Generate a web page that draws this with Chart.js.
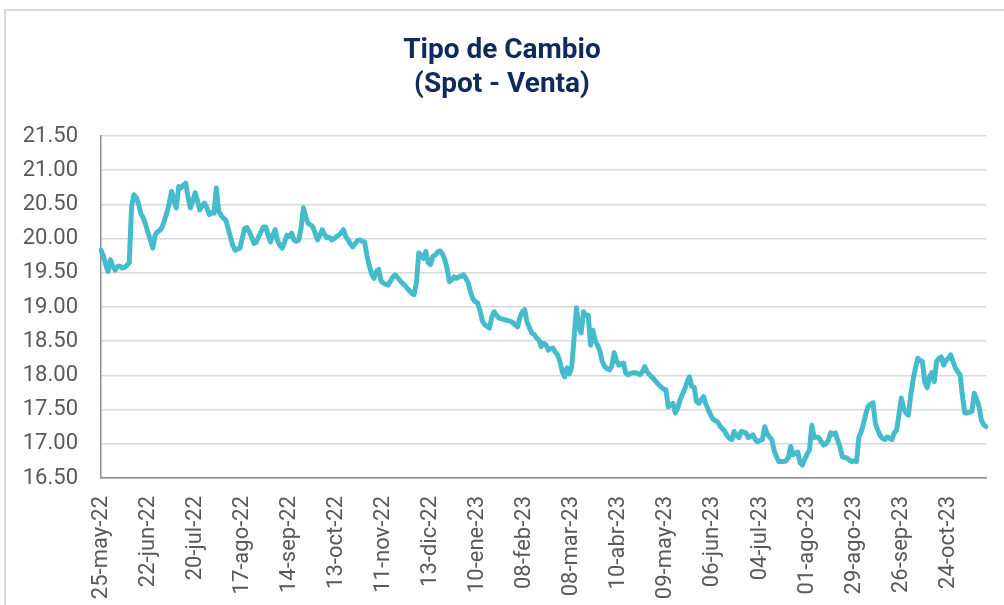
<!DOCTYPE html>
<html><head><meta charset="utf-8">
<script src="https://cdn.jsdelivr.net/npm/chart.js@4.4.0/dist/chart.umd.min.js"></script>
<style>
html,body{margin:0;padding:0;background:#fff;overflow:hidden;width:1004px;height:605px}
#frame{position:absolute;left:4px;top:9px;width:1100px;height:700px;border:2px solid #d9d9d9;box-sizing:border-box}
#wrap{position:absolute;left:0;top:0;width:1004px;height:605px}
</style></head><body>
<div id="frame"></div>
<div id="wrap"><canvas id="c" width="1004" height="605"></canvas></div>
<script>
const titleLines = ['Tipo de Cambio', '(Spot - Venta)'];
const tickLabels = ['25-may-22','22-jun-22','20-jul-22','17-ago-22','14-sep-22','13-oct-22','11-nov-22','13-dic-22','10-ene-23','08-feb-23','08-mar-23','10-abr-23','09-may-23','06-jun-23','04-jul-23','01-ago-23','29-ago-23','26-sep-23','24-oct-23'];
const tickEvery = 20;
const values = [
19.83,19.75,19.62,19.52,19.69,19.60,19.54,19.59,19.60,19.57,19.58,19.61,19.65,20.47,20.64,20.60,20.50,20.36,20.30,20.20,
20.08,19.98,19.86,20.05,20.10,20.12,20.17,20.27,20.38,20.52,20.69,20.55,20.45,20.76,20.74,20.78,20.81,20.60,20.45,20.55,
20.67,20.55,20.42,20.48,20.52,20.45,20.35,20.38,20.37,20.74,20.40,20.34,20.30,20.27,20.15,20.02,19.90,19.83,19.85,19.86,
20.00,20.15,20.16,20.10,20.02,19.93,19.95,20.03,20.10,20.17,20.17,20.05,19.95,20.05,20.13,19.97,19.90,19.86,19.95,20.05,
20.03,20.08,19.98,19.96,19.98,20.15,20.45,20.32,20.22,20.20,20.17,20.08,19.98,20.05,20.13,20.06,20.01,20.02,19.98,20.00,
20.03,20.05,20.08,20.13,20.03,19.98,19.92,19.88,19.93,19.97,19.98,19.96,19.95,19.75,19.60,19.48,19.42,19.52,19.55,19.38,
19.35,19.33,19.32,19.38,19.44,19.47,19.43,19.39,19.35,19.32,19.28,19.24,19.20,19.18,19.35,19.79,19.75,19.71,19.81,19.65,
19.62,19.74,19.76,19.80,19.82,19.78,19.70,19.57,19.37,19.40,19.44,19.42,19.44,19.45,19.47,19.42,19.35,19.22,19.12,19.08,
19.06,18.95,18.80,18.74,18.72,18.69,18.85,18.93,18.88,18.84,18.83,18.82,18.81,18.80,18.79,18.77,18.74,18.71,18.85,18.93,
18.96,18.78,18.70,18.62,18.60,18.55,18.52,18.42,18.47,18.45,18.37,18.39,18.40,18.34,18.30,18.20,18.05,17.98,18.11,18.02,
18.13,18.55,18.99,18.70,18.62,18.93,18.88,18.88,18.44,18.66,18.50,18.44,18.35,18.20,18.13,18.10,18.08,18.13,18.33,18.22,
18.15,18.17,18.18,18.03,18.01,18.03,18.04,18.04,18.03,18.01,18.05,18.13,18.06,18.01,17.98,17.94,17.90,17.86,17.83,17.80,
17.79,17.54,17.57,17.59,17.45,17.52,17.64,17.72,17.80,17.90,17.98,17.84,17.83,17.62,17.59,17.64,17.69,17.58,17.50,17.42,
17.36,17.34,17.32,17.26,17.22,17.18,17.12,17.08,17.06,17.18,17.12,17.09,17.18,17.17,17.16,17.09,17.11,17.13,17.06,17.03,
17.05,17.06,17.25,17.15,17.10,17.06,16.90,16.81,16.74,16.74,16.74,16.75,16.80,16.96,16.84,16.86,16.88,16.72,16.69,16.78,
16.85,16.91,17.27,17.09,17.10,17.09,17.03,16.98,17.00,17.05,17.16,17.14,17.16,17.05,16.95,16.81,16.80,16.79,16.76,16.74,
16.75,16.74,17.10,17.18,17.30,17.45,17.55,17.58,17.60,17.30,17.20,17.12,17.08,17.06,17.10,17.08,17.06,17.16,17.20,17.42,
17.67,17.52,17.45,17.42,17.70,17.93,18.10,18.25,18.22,18.20,17.90,17.82,17.98,18.04,17.91,18.20,18.25,18.27,18.15,18.22,
18.25,18.30,18.20,18.11,18.05,18.01,17.70,17.45,17.45,17.46,17.47,17.74,17.65,17.55,17.35,17.28,17.25
];
const categories = values.map((v, i) => (i % tickEvery === 0 && tickLabels[i / tickEvery]) ? tickLabels[i / tickEvery] : '');

const titlePlugin = {
  id: 'centeredTitle',
  afterDraw(chart) {
    const ctx = chart.ctx;
    ctx.save();
    ctx.font = "bold 28px Roboto, sans-serif";
    ctx.fillStyle = '#0f2a5c';
    ctx.textAlign = 'center';
    ctx.textBaseline = 'alphabetic';
    ctx.fillText(titleLines[0], 502, 58);
    ctx.fillText(titleLines[1], 502, 92);
    ctx.restore();
  }
};

const axisFont = {family: 'Roboto', size: 22, weight: '400'};
new Chart(document.getElementById('c'), {
  type: 'line',
  data: {
    labels: categories,
    datasets: [{
      data: values,
      borderColor: '#45bccb',
      borderWidth: 5,
      pointRadius: 0,
      tension: 0,
      borderJoinStyle: 'round',
      borderCapStyle: 'round'
    }]
  },
  plugins: [titlePlugin],
  options: {
    responsive: false,
    animation: false,
    layout: {padding: {top: 136, right: 18, left: 0, bottom: 0}},
    plugins: {
      legend: {display: false},
      tooltip: {enabled: false},
      title: {display: false}
    },
    scales: {
      x: {
        grid: {display: false},
        border: {display: true, color: '#8c8c8c', width: 1.5},
        ticks: {
          autoSkip: false, maxRotation: 90, minRotation: 90, padding: 10,
          font: axisFont, color: '#595959',
          callback: (v, i) => categories[i] || null
        },
        afterFit: s => { s.height = 127; }
      },
      y: {
        min: 16.5, max: 21.5,
        grid: {color: '#d9d9d9', lineWidth: 1.5, drawTicks: false},
        border: {display: true, color: '#8c8c8c', width: 1.5},
        ticks: {stepSize: 0.5, padding: 23, font: axisFont, color: '#595959', callback: v => v.toFixed(2)},
        afterFit: s => { s.width = 101; }
      }
    }
  }
});
</script>
</body></html>
